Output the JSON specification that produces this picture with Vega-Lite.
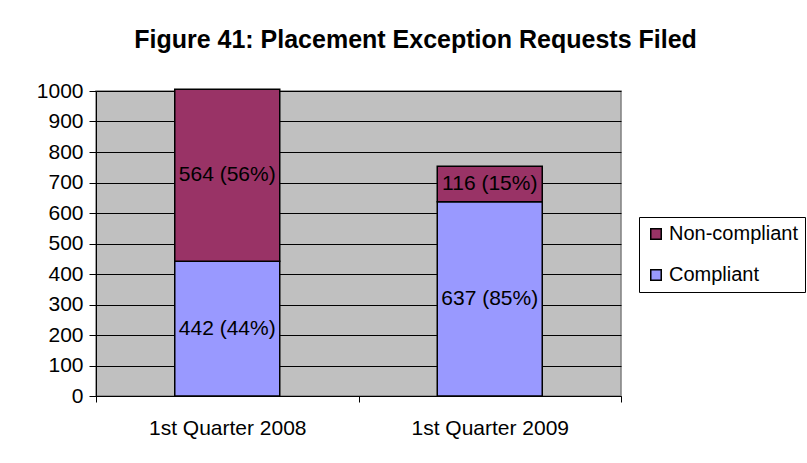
{
  "$schema": "https://vega.github.io/schema/vega-lite/v6.json",
  "autosize": "none",
  "width": 525,
  "height": 305,
  "padding": {"left": 96, "top": 91, "right": 186, "bottom": 67},
  "background": "white",
  "title": {
    "text": "Figure 41: Placement Exception Requests Filed",
    "font": "Liberation Sans",
    "fontSize": 25,
    "fontWeight": "bold",
    "color": "black",
    "anchor": "middle",
    "frame": "group",
    "baseline": "alphabetic",
    "dx": 57,
    "offset": 7
  },
  "data": {
    "values": [
      {"quarter": "1st Quarter 2008", "status": "Compliant", "count": 442, "label": "442 (44%)"},
      {"quarter": "1st Quarter 2008", "status": "Non-compliant", "count": 564, "label": "564 (56%)"},
      {"quarter": "1st Quarter 2009", "status": "Compliant", "count": 637, "label": "637 (85%)"},
      {"quarter": "1st Quarter 2009", "status": "Non-compliant", "count": 116, "label": "116 (15%)"}
    ]
  },
  "transform": [
    {"stack": "count", "groupby": ["quarter"], "sort": [{"field": "status", "order": "ascending"}], "as": ["y0", "y1"]}
  ],
  "encoding": {
    "x": {
      "field": "quarter",
      "type": "nominal",
      "title": null,
      "scale": {"paddingInner": 0, "paddingOuter": 0},
      "axis": {
        "labelAngle": 0,
        "labelFont": "Liberation Sans",
        "labelFontSize": 21,
        "labelColor": "black",
        "labelPadding": 15,
        "tickBand": "extent",
        "tickSize": 6,
        "tickColor": "black",
        "domainColor": "black",
        "grid": false
      }
    }
  },
  "layer": [
    {
      "mark": {"type": "bar", "width": {"band": 0.4}, "stroke": "black", "strokeWidth": 1.5},
      "encoding": {
        "y": {
          "field": "y0",
          "type": "quantitative",
          "title": null,
          "scale": {"domain": [0, 1000]},
          "axis": {
            "values": [0, 100, 200, 300, 400, 500, 600, 700, 800, 900, 1000],
            "format": "d",
            "labelOverlap": false,
            "labelFont": "Liberation Sans",
            "labelFontSize": 21,
            "labelColor": "black",
            "labelPadding": 6,
            "tickSize": 7,
            "tickColor": "black",
            "domainColor": "black",
            "grid": true,
            "gridColor": "black",
            "gridWidth": 1
          }
        },
        "y2": {"field": "y1"},
        "color": {
          "field": "status",
          "type": "nominal",
          "scale": {"domain": ["Non-compliant", "Compliant"], "range": ["#993366", "#9999FF"]},
          "legend": {
            "title": null,
            "orient": "none",
            "legendX": 543,
            "legendY": 126,
            "symbolType": "square",
            "symbolSize": 110,
            "symbolStrokeColor": "black",
            "symbolStrokeWidth": 1.5,
            "symbolOpacity": 1,
            "labelFont": "Liberation Sans",
            "labelFontSize": 20,
            "labelColor": "black",
            "labelOffset": 3,
            "rowPadding": 21,
            "padding": 7,
            "strokeColor": "black",
            "fillColor": "white"
          }
        }
      }
    },
    {
      "transform": [
        {"fold": ["y0", "y1"], "as": ["edge", "pos"]},
        {"aggregate": [{"op": "mean", "field": "pos", "as": "ymid"}], "groupby": ["quarter", "status", "label"]}
      ],
      "mark": {"type": "text", "font": "Liberation Sans", "fontSize": 21, "color": "black", "baseline": "middle"},
      "encoding": {
        "y": {
          "field": "ymid",
          "type": "quantitative",
          "title": null,
          "axis": {
            "values": [0, 100, 200, 300, 400, 500, 600, 700, 800, 900, 1000],
            "format": "d",
            "labelOverlap": false,
            "labelFont": "Liberation Sans",
            "labelFontSize": 21,
            "labelColor": "black",
            "labelPadding": 6,
            "tickSize": 7,
            "tickColor": "black",
            "domainColor": "black",
            "grid": true,
            "gridColor": "black",
            "gridWidth": 1
          }
        },
        "text": {"field": "label"}
      }
    }
  ],
  "config": {
    "view": {"fill": "#C0C0C0", "stroke": "#808080", "strokeWidth": 1.5}
  }
}
